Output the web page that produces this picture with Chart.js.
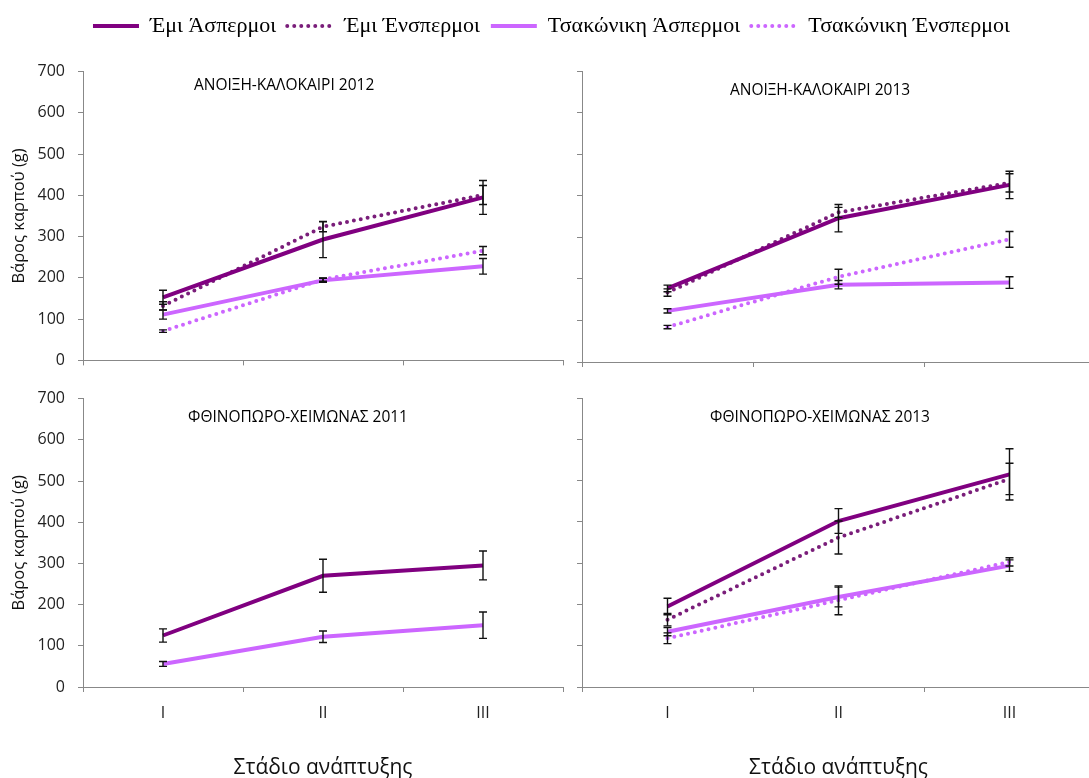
<!DOCTYPE html>
<html>
<head>
<meta charset="utf-8">
<script src="https://cdn.jsdelivr.net/npm/chart.js@4.4.1/dist/chart.umd.min.js"></script>
<style>
  html, body { margin: 0; padding: 0; background: #ffffff; }
  body { width: 1089px; height: 778px; overflow: hidden; position: relative; }
  canvas { position: absolute; }
  #legend { left: 0px; top: 0px; }
  #p0 { left: 0px; top: 49px; }
  #p1 { left: 500px; top: 58px; }
  #p2 { left: 0px; top: 376px; }
  #p3 { left: 500px; top: 385px; }
</style>
</head>
<body>
<canvas id="legend" width="1089" height="110"></canvas>
<canvas id="p0" width="575" height="334"></canvas>
<canvas id="p1" width="600" height="325"></canvas>
<canvas id="p2" width="575" height="405"></canvas>
<canvas id="p3" width="600" height="396"></canvas>
<script>
// ---------- data ----------
const stages = ['I', 'II', 'III'];
const seriesNames = ['Έμι Άσπερμοι', 'Έμι Ένσπερμοι', 'Τσακώνικη Άσπερμοι', 'Τσακώνικη Ένσπερμοι'];
const panelTitles = ['ΑΝΟΙΞΗ-ΚΑΛΟΚΑΙΡΙ 2012', 'ΑΝΟΙΞΗ-ΚΑΛΟΚΑΙΡΙ 2013', 'ΦΘΙΝΟΠΩΡΟ-ΧΕΙΜΩΝΑΣ 2011', 'ΦΘΙΝΟΠΩΡΟ-ΧΕΙΜΩΝΑΣ 2013'];
const yAxisTitle = 'Βάρος καρπού (g)';
const xAxisTitle = 'Στάδιο ανάπτυξης';
const yMin = 0, yMax = 700, yStep = 100;

// ΑΝΟΙΞΗ-ΚΑΛΟΚΑΙΡΙ 2012
const emiAsp2012 = [153, 293, 395];
const emiAsp2012Err = [17, 44, 41];
const emiEns2012 = [132, 324, 401];
const emiEns2012Err = [10, 12, 23];
const tsaAsp2012 = [111, 194, 228];
const tsaAsp2012Err = [11, 5, 19];
const tsaEns2012 = [71, 196, 266];
const tsaEns2012Err = [3, 4, 10];

// ΑΝΟΙΞΗ-ΚΑΛΟΚΑΙΡΙ 2013
const emiAsp2013 = [177, 346, 426];
const emiAsp2013Err = [8, 33, 33];
const emiEns2013 = [167, 360, 431];
const emiEns2013Err = [9, 12, 22];
const tsaAsp2013 = [123, 186, 191];
const tsaAsp2013Err = [5, 10, 14];
const tsaEns2013 = [84, 205, 295];
const tsaEns2013Err = [4, 18, 19];

// ΦΘΙΝΟΠΩΡΟ-ΧΕΙΜΩΝΑΣ 2011 (μόνο άσπερμοι)
const emiAspFW2011 = [125, 270, 295];
const emiAspFW2011Err = [16, 40, 35];
const tsaAspFW2011 = [56, 122, 150];
const tsaAspFW2011Err = [6, 14, 32];

// ΦΘΙΝΟΠΩΡΟ-ΧΕΙΜΩΝΑΣ 2013
const emiAspFW2013 = [195, 402, 515];
const emiAspFW2013Err = [20, 30, 62];
const emiEnsFW2013 = [163, 362, 504];
const emiEnsFW2013Err = [15, 40, 38];
const tsaAspFW2013 = [134, 218, 294];
const tsaAspFW2013Err = [10, 24, 14];
const tsaEnsFW2013 = [118, 210, 303];
const tsaEnsFW2013Err = [13, 35, 10];

// ---------- styles ----------
const seriesStyles = [
  { borderColor: '#800080', borderWidth: 4, borderDash: [], borderCapStyle: 'butt' },
  { borderColor: '#7a1e7a', borderWidth: 4, borderDash: [0, 7], borderCapStyle: 'round' },
  { borderColor: '#cc66ff', borderWidth: 4, borderDash: [], borderCapStyle: 'butt' },
  { borderColor: '#cc66ff', borderWidth: 4, borderDash: [0, 7], borderCapStyle: 'round' }
];
const axisColor = '#888888';
const sansFont = "'Open Sans', 'Noto Sans', sans-serif";

// ---------- plugins ----------
const errorBarPlugin = {
  id: 'errorBars',
  afterDatasetsDraw(chart) {
    const ctx = chart.ctx;
    const xs = chart.scales.x, ys = chart.scales.y;
    ctx.save();
    ctx.strokeStyle = '#111111';
    ctx.lineWidth = 1.4;
    chart.data.datasets.forEach(ds => {
      if (!ds.errors) return;
      ds.data.forEach((v, i) => {
        const e = ds.errors[i];
        if (v == null || e == null) return;
        const x = xs.getPixelForValue(i);
        const yTop = ys.getPixelForValue(v + e);
        const yBot = ys.getPixelForValue(v - e);
        ctx.beginPath();
        ctx.moveTo(x, yTop); ctx.lineTo(x, yBot);
        ctx.moveTo(x - 4, yTop); ctx.lineTo(x + 4, yTop);
        ctx.moveTo(x - 4, yBot); ctx.lineTo(x + 4, yBot);
        ctx.stroke();
      });
    });
    ctx.restore();
  }
};

const panelTitlePlugin = {
  id: 'panelTitle',
  afterDraw(chart, args, opts) {
    if (!opts || !opts.text) return;
    const a = chart.chartArea, ctx = chart.ctx;
    ctx.save();
    ctx.font = "15.5px " + sansFont;
    ctx.fillStyle = '#000';
    ctx.textAlign = 'center';
    ctx.textBaseline = 'middle';
    ctx.fillText(opts.text, a.left + (a.right - a.left) * opts.xFrac, a.top + opts.dy);
    ctx.restore();
  }
};

// ---------- legend ----------
new Chart(document.getElementById('legend'), {
  type: 'line',
  data: {
    labels: [],
    datasets: seriesNames.map((n, i) => Object.assign({ label: n, data: [] }, seriesStyles[i]))
  },
  options: {
    responsive: false,
    animation: false,
    layout: { padding: { top: 4, left: 14 } },
    scales: { x: { display: false }, y: { display: false } },
    plugins: {
      tooltip: { enabled: false },
      legend: {
        display: true,
        position: 'top',
        maxHeight: 60,
        labels: {
          usePointStyle: true,
          pointStyleWidth: 46,
          padding: 11,
          color: '#000',
          font: { family: "'Liberation Serif', 'DejaVu Serif', serif", size: 22 },
          generateLabels: chart => chart.data.datasets.map((ds, i) => ({
            text: ds.label,
            fillStyle: ds.borderColor,
            strokeStyle: ds.borderColor,
            lineWidth: ds.borderWidth,
            lineDash: ds.borderDash,
            lineCap: ds.borderCapStyle,
            pointStyle: 'line',
            hidden: false,
            datasetIndex: i,
            fontColor: '#000'
          }))
        }
      }
    }
  }
});

// ---------- panels ----------
function makePanel(id, cfg) {
  const datasets = cfg.series.map(s => Object.assign({
    label: seriesNames[s.idx],
    data: s.values,
    errors: s.errors,
    pointRadius: 0,
    pointHoverRadius: 0,
    tension: 0,
    fill: false
  }, seriesStyles[s.idx]));

  new Chart(document.getElementById(id), {
    type: 'line',
    data: { labels: stages, datasets },
    plugins: [errorBarPlugin, panelTitlePlugin],
    options: {
      responsive: false,
      animation: false,
      layout: { padding: { top: 13, right: cfg.padRight, left: 0, bottom: 0 } },
      plugins: {
        legend: { display: false },
        tooltip: { enabled: false },
        panelTitle: { text: cfg.title, xFrac: cfg.titleX, dy: cfg.titleDy }
      },
      scales: {
        x: {
          type: 'category',
          offset: true,
          grid: { offset: true, drawOnChartArea: false, drawTicks: true, tickLength: 5, color: axisColor },
          border: { display: true, color: axisColor, width: 1 },
          ticks: { display: cfg.showX, color: '#222', padding: 12, font: { family: sansFont, size: 16 } },
          title: {
            display: cfg.showX,
            text: xAxisTitle,
            color: '#111',
            padding: { top: 0, bottom: 0 },
            font: { family: sansFont, size: 21 }
          },
          afterFit: sc => { sc.height = cfg.xHeight; }
        },
        y: {
          min: yMin, max: yMax,
          grid: { drawOnChartArea: false, drawTicks: true, tickLength: 5, color: axisColor },
          border: { display: true, color: axisColor, width: 1 },
          ticks: { display: cfg.showY, stepSize: yStep, color: '#222', padding: 13, font: { family: sansFont, size: 16 } },
          title: {
            display: cfg.showY,
            text: yAxisTitle,
            color: '#111',
            padding: { top: 9, bottom: 0 },
            font: { family: sansFont, size: 16.5 }
          },
          afterFit: sc => { sc.width = cfg.yWidth; }
        }
      }
    }
  });
}

makePanel('p0', {
  title: panelTitles[0], titleX: 0.419, titleDy: 14,
  showX: false, showY: true, yWidth: 83, xHeight: 21, padRight: 12,
  series: [
    { idx: 0, values: emiAsp2012, errors: emiAsp2012Err },
    { idx: 1, values: emiEns2012, errors: emiEns2012Err },
    { idx: 2, values: tsaAsp2012, errors: tsaAsp2012Err },
    { idx: 3, values: tsaEns2012, errors: tsaEns2012Err }
  ]
});
makePanel('p1', {
  title: panelTitles[1], titleX: 0.464, titleDy: 20,
  showX: false, showY: false, yWidth: 82, xHeight: 21, padRight: 5,
  series: [
    { idx: 0, values: emiAsp2013, errors: emiAsp2013Err },
    { idx: 1, values: emiEns2013, errors: emiEns2013Err },
    { idx: 2, values: tsaAsp2013, errors: tsaAsp2013Err },
    { idx: 3, values: tsaEns2013, errors: tsaEns2013Err }
  ]
});
makePanel('p2', {
  title: panelTitles[2], titleX: 0.448, titleDy: 19,
  showX: true, showY: true, yWidth: 83, xHeight: 94, padRight: 12,
  series: [
    { idx: 0, values: emiAspFW2011, errors: emiAspFW2011Err },
    { idx: 2, values: tsaAspFW2011, errors: tsaAspFW2011Err }
  ]
});
makePanel('p3', {
  title: panelTitles[3], titleX: 0.464, titleDy: 20,
  showX: true, showY: false, yWidth: 82, xHeight: 94, padRight: 5,
  series: [
    { idx: 0, values: emiAspFW2013, errors: emiAspFW2013Err },
    { idx: 1, values: emiEnsFW2013, errors: emiEnsFW2013Err },
    { idx: 2, values: tsaAspFW2013, errors: tsaAspFW2013Err },
    { idx: 3, values: tsaEnsFW2013, errors: tsaEnsFW2013Err }
  ]
});
</script>
</body>
</html>
